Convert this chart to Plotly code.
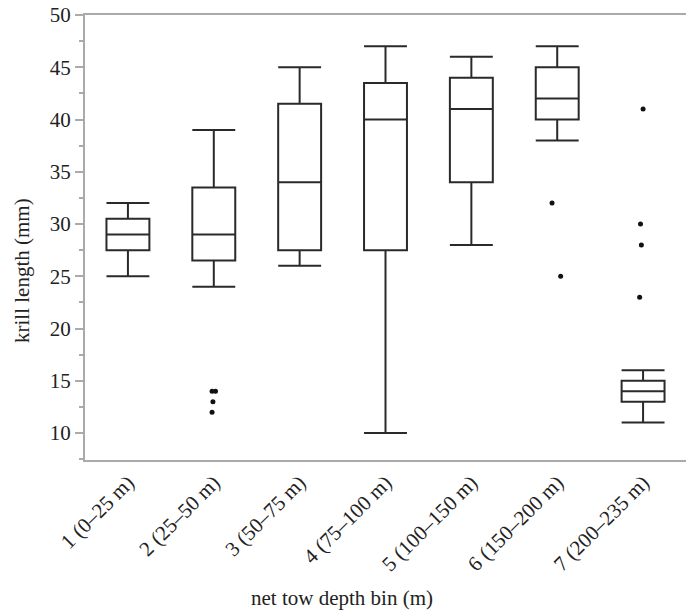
import plotly.graph_objects as go

categories = ["1 (0–25 m)", "2 (25–50 m)", "3 (50–75 m)", "4 (75–100 m)",
              "5 (100–150 m)", "6 (150–200 m)", "7 (200–235 m)"]
lower_whisker = [25, 24, 26, 10, 28, 38, 11]
q1 = [27.5, 26.5, 27.5, 27.5, 34, 40, 13]
median = [29, 29, 34, 40, 41, 42, 14]
q3 = [30.5, 33.5, 41.5, 43.5, 44, 45, 15]
upper_whisker = [32, 39, 45, 47, 46, 47, 16]

outlier_bin = [2, 2, 2, 2, 6, 6, 7, 7, 7, 7]
outlier_value = [14, 14, 13, 12, 32, 25, 41, 30, 28, 23]
outlier_jitter = [-0.02, 0.02, -0.01, -0.02, -0.06, 0.04, 0.0, -0.03, -0.02, -0.04]

positions = list(range(1, len(categories) + 1))
FONT = "Liberation Serif, Times New Roman, serif"

fig = go.Figure()
fig.add_trace(go.Box(
    x=positions, q1=q1, median=median, q3=q3,
    lowerfence=lower_whisker, upperfence=upper_whisker,
    width=0.5, whiskerwidth=1, boxpoints=False,
    line=dict(color="#2a2a2a", width=2),
    fillcolor="rgba(255,255,255,0)", showlegend=False, hoverinfo="skip",
))
fig.add_trace(go.Scatter(
    x=[b + j for b, j in zip(outlier_bin, outlier_jitter)], y=outlier_value,
    mode="markers", marker=dict(color="#111111", size=5),
    showlegend=False, hoverinfo="skip",
))

fig.update_layout(
    width=686, height=611,
    margin=dict(l=85, r=0, t=15, b=151),
    plot_bgcolor="white", paper_bgcolor="white",
    font=dict(family=FONT, size=21, color="#222222"),
    xaxis=dict(
        range=[0.5, 7.5], tickvals=positions, ticktext=categories,
        tickangle=-45, showgrid=False, zeroline=False,
        showline=True, linecolor="#aaaaaa", linewidth=2, mirror=True,
        ticks="", tickfont=dict(size=21, family=FONT), automargin=False,
    ),
    yaxis=dict(
        range=[7.42, 50], tickvals=[10, 15, 20, 25, 30, 35, 40, 45, 50],
        showgrid=False, zeroline=False,
        showline=True, linecolor="#aaaaaa", linewidth=2,
        ticks="outside", ticklen=8, tickcolor="#aaaaaa", tickwidth=1.5,
        minor=dict(ticks="outside", ticklen=4, tickcolor="#aaaaaa",
                   dtick=2.5, tick0=0, showgrid=False),
        tickfont=dict(size=21, family=FONT),
        ticklabeloverflow="allow", automargin=False,
    ),
    annotations=[
        dict(text="net tow depth bin (m)", xref="paper", yref="paper",
             x=0.428, y=0, xanchor="center", yanchor="top", yshift=-124,
             showarrow=False, font=dict(size=21, family=FONT)),
        dict(text="krill length (mm)", xref="paper", yref="paper",
             x=0, y=0.4247, xanchor="center", yanchor="middle",
             xshift=-63, textangle=-90,
             showarrow=False, font=dict(size=21, family=FONT)),
    ],
)

fig.write_html("out.html", config={"displayModeBar": False},
               post_script="document.body.style.margin='0';document.body.style.overflow='hidden';")
